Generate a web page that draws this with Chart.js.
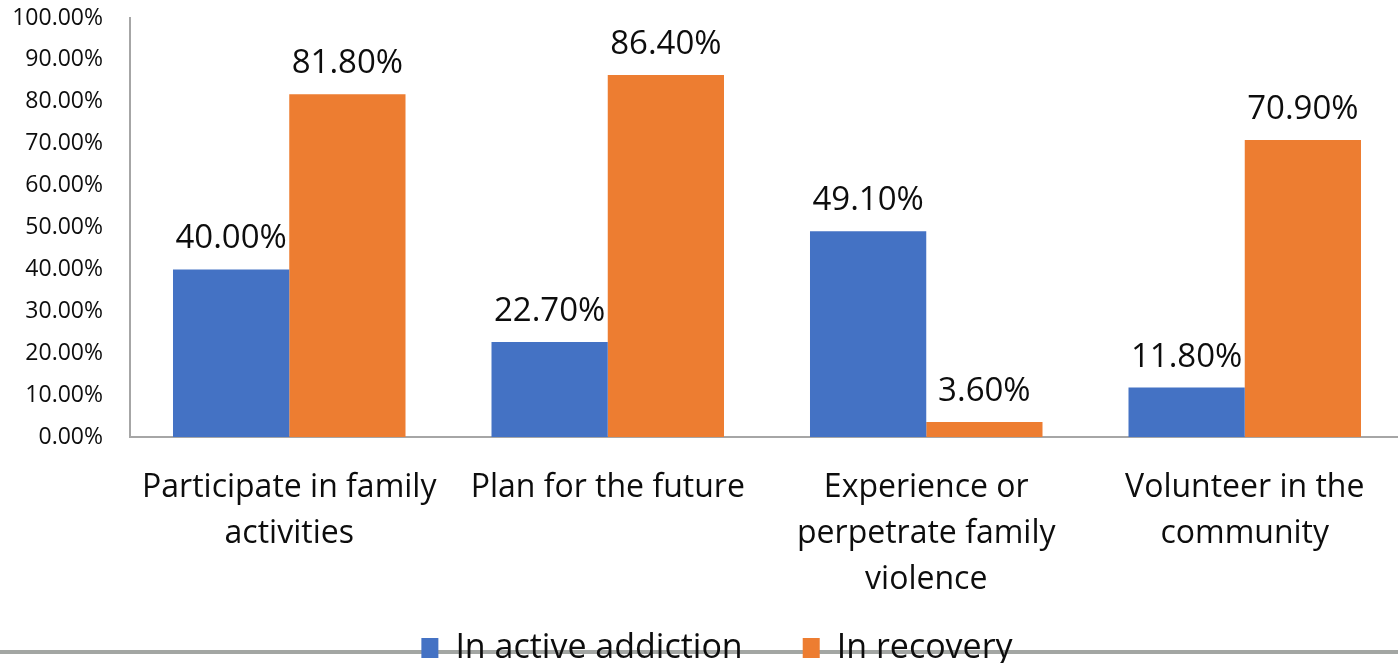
<!DOCTYPE html>
<html>
<head>
<meta charset="utf-8">
<script src="https://cdn.jsdelivr.net/npm/chart.js@4.4.1/dist/chart.umd.min.js"></script>
<style>
  html, body { margin: 0; padding: 0; overflow: hidden; background: #fff; width: 1398px; height: 663px; }
  #wrap { position: absolute; left: 0; top: 0; width: 1404px; height: 711px; }
</style>
</head>
<body>
<div id="wrap"><canvas id="c"></canvas></div>
<script>
// Share of respondents by situation, in percent
const categories = [
  ["Participate in family", "activities"],
  ["Plan for the future"],
  ["Experience or", "perpetrate family", "violence"],
  ["Volunteer in the", "community"]
];
const seriesNames = ["In active addiction", "In recovery"];
const activeAddiction = [40.0, 22.7, 49.1, 11.8];
const inRecovery = [81.8, 86.4, 3.6, 70.9];
const yTicks = [0, 10, 20, 30, 40, 50, 60, 70, 80, 90, 100];

const FONT = "'Open Sans', 'Liberation Sans', sans-serif";
const INK = '#0d0d0d';
const fmt = v => Number(v).toFixed(2) + '%';

// value labels above each bar
const valueLabels = {
  id: 'valueLabels',
  afterDatasetsDraw(chart) {
    const ctx = chart.ctx;
    ctx.save();
    ctx.font = "33px " + FONT;
    ctx.fillStyle = INK;
    ctx.textAlign = 'center';
    ctx.textBaseline = 'alphabetic';
    chart.data.datasets.forEach((ds, i) => {
      chart.getDatasetMeta(i).data.forEach((bar, j) => {
        ctx.fillText(fmt(ds.data[j]), bar.x, bar.y - 21);
      });
    });
    ctx.restore();
  }
};

// grey rule running along the foot of the figure
const footRule = {
  id: 'footRule',
  beforeDraw(chart) {
    const ctx = chart.ctx;
    ctx.save();
    ctx.strokeStyle = '#a3a6a3';
    ctx.lineWidth = 4;
    ctx.beginPath();
    ctx.moveTo(0, 652);
    ctx.lineTo(chart.width, 652);
    ctx.stroke();
    ctx.restore();
  }
};

// move the legend up against the category labels and slightly right
const legendShift = {
  id: 'legendShift',
  afterLayout(chart) {
    const lg = chart.legend;
    lg.left += 15;
    lg.right += 15;
    lg.top -= 36;
    lg.bottom -= 36;
  }
};

new Chart(document.getElementById('c'), {
  type: 'bar',
  data: {
    labels: categories,
    datasets: [
      { label: seriesNames[0], data: activeAddiction, backgroundColor: '#4472C4' },
      { label: seriesNames[1], data: inRecovery, backgroundColor: '#ED7D31' }
    ]
  },
  options: {
    responsive: true,
    maintainAspectRatio: false,
    animation: false,
    layout: { padding: { top: 18, left: 0, right: 0, bottom: 0 } },
    datasets: { bar: { categoryPercentage: 0.73, barPercentage: 1.0 } },
    plugins: {
      tooltip: { enabled: false },
      legend: {
        position: 'bottom',
        labels: {
          font: { family: FONT, size: 34 },
          color: INK,
          boxWidth: 17,
          boxHeight: 20,
          padding: 60
        }
      }
    },
    scales: {
      x: {
        grid: { display: false, drawTicks: false },
        border: { display: true, color: '#a6a6a6', width: 2 },
        ticks: {
          font: { family: FONT, size: 32, lineHeight: 1.44 },
          color: INK,
          padding: 28,
          maxRotation: 0,
          autoSkip: false
        },
        afterFit(scale) { scale.height = 170; scale.paddingLeft = 0; scale.paddingRight = 0; }
      },
      y: {
        min: 0,
        max: 100,
        grid: { display: false, drawTicks: false },
        border: { display: true, color: '#a6a6a6', width: 2 },
        afterBuildTicks(scale) { scale.ticks = yTicks.map(v => ({ value: v })); },
        ticks: {
          font: { family: FONT, size: 23 },
          color: INK,
          padding: 27,
          callback: v => fmt(v)
        },
        afterFit(scale) { scale.width = 130; scale.paddingTop = 0; scale.paddingBottom = 0; }
      }
    }
  },
  plugins: [valueLabels, footRule, legendShift]
});
</script>
</body>
</html>
